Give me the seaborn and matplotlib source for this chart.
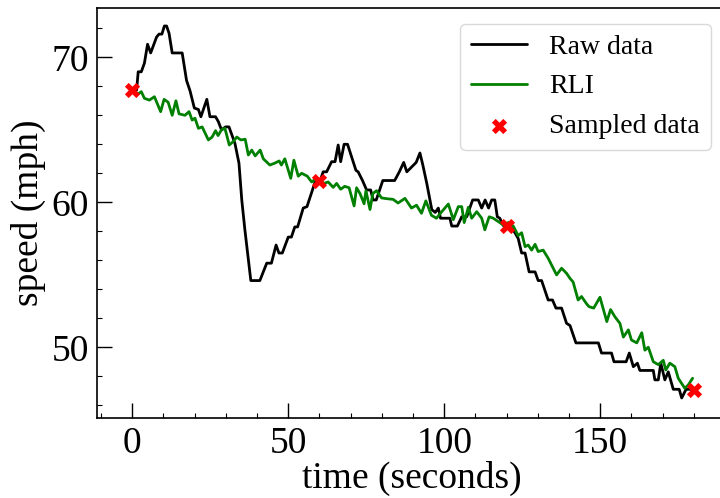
import matplotlib
matplotlib.use("Agg")
import matplotlib.pyplot as plt
from matplotlib.ticker import MultipleLocator
import seaborn as sns
import pandas as pd

# Raw data (vertices)
raw_t = [0, 1.4, 1.9, 2.9, 3.9, 4.9, 5.9, 7.8, 8.6, 9.5, 10.3, 11, 11.8, 12.8, 16, 17.4, 18.5,
         19.9, 21.2, 22, 23.9, 24.9, 26.7, 27.6, 28.6, 29.9, 31, 32.9, 34.2, 35.1, 36.1, 38,
         40.9, 43.1, 44.6, 46.1, 47, 48.1, 50, 51, 52.1, 53, 54.8, 56, 58.6, 60.2, 61.2, 62.3,
         63.9, 65, 66, 66.8, 67.9, 69, 71.7, 72.4, 73.8, 75.1, 76.4, 77.2, 78.2, 80.3, 84.1,
         85.6, 87, 88, 91, 92.2, 93.1, 94.4, 96, 97.1, 98.1, 98.8, 101.8, 102.4, 104.2, 105.6,
         107.2, 109.1, 110.9, 112, 113.1, 114.2, 115.2, 116.2, 117, 117.8, 118.9, 120.5, 122.1,
         123.7, 124.8, 125.9, 127.2, 129.1, 130.1, 131.2, 133.3, 134.7, 135.8, 137.6, 139.2,
         140.3, 142.2, 149.4, 150.4, 153.6, 154.4, 158.3, 159.3, 160.6, 161.9, 162.7, 167,
         167.5, 168.6, 169.4, 170.7, 171.8, 173.4, 175.3, 176.1, 177.5, 179.8]
raw_v = [67.74, 67.74, 69.0, 69.0, 69.6, 70.9, 70.3, 71.4, 71.6, 71.6, 72.16, 72.16, 71.65, 70.3,
         70.3, 68.4, 67.7, 66.5, 66.4, 65.9, 67.1, 65.9, 65.9, 65.56, 65.0, 65.2, 65.2, 64.07,
         62.7, 60.16, 58.1, 54.6, 54.6, 55.8, 55.8, 57.05, 56.5, 56.5, 57.6, 57.6, 58.3, 58.3,
         59.6, 59.7, 61.4, 61.5, 62.1, 62.1, 62.8, 62.8, 63.95, 62.8, 64.0, 64.0, 62.2, 62.1,
         61.5, 60.85, 60.85, 60.16, 60.16, 61.5, 61.5, 62.1, 62.75, 62.1, 62.75, 63.4, 62.6,
         61.3, 59.5, 59.3, 59.6, 58.9, 58.9, 58.36, 58.36, 59.0, 59.0, 60.16, 60.16, 59.6,
         60.16, 59.6, 60.16, 60.16, 59.0, 58.9, 58.4, 58.4, 58.1, 57.5, 56.5, 56.5, 55.2, 55.2,
         54.6, 54.6, 53.26, 53.26, 52.7, 52.7, 51.65, 51.5, 50.3, 50.3, 49.6, 49.6, 49.0, 49.0,
         49.6, 48.66, 48.9, 48.4, 48.4, 47.75, 47.75, 48.9, 47.75, 48.3, 47.1, 47.1, 46.5,
         47.1, 47.1]

# RLI (vertices)
rli_t = [0, 1.4, 2.9, 3.9, 5.5, 7.1, 9.1, 10.2, 11.5, 12.8, 14, 15, 16.9, 18.2, 19.2, 20.1, 21.2,
         22.4, 24.4, 25.6, 26.7, 27.5, 28.6, 29.7, 31.1, 32.4, 33.5, 34.8, 36.2, 37.2, 38.3,
         39.4, 41, 42, 44.1, 45.7, 47.1, 47.8, 48.9, 50.8, 51.8, 53.2, 54.3, 56.1, 57.5, 58.8,
         60.1, 61.4, 62.8, 64.4, 65.5, 66.8, 68.1, 69.5, 71.1, 71.9, 73, 74.3, 74.9, 76.2,
         77.1, 78.3, 79.9, 81.5, 83.6, 85.2, 87.4, 89.5, 91.1, 92.7, 94.1, 95.9, 97.5, 99.2,
         101.3, 102.9, 104.5, 105.6, 106.4, 107.7, 108.8, 110.4, 112, 113, 114.4, 115.7, 117.3,
         118.9, 120.5, 122.1, 123.7, 124.8, 125.9, 126.9, 128, 129.1, 130.1, 131.7, 133.3,
         134.9, 136, 137.6, 139.2, 140.3, 141.3, 142.9, 144, 145.6, 146.4, 147.9, 149.9, 152.1,
         153.3, 154.7, 156.3, 157.4, 159, 160, 161.7, 163.3, 164.3, 165.4, 167, 168.6, 170.2,
         171, 172.3, 173.9, 175, 176.1, 177.1, 178.2, 179.6]
rli_v = [67.74, 67.4, 67.63, 67.17, 67.05, 67.28, 66.25, 67.1, 66.9, 66.0, 67.0, 66.1, 66.0,
         66.25, 65.67, 65.8, 65.1, 65.2, 64.3, 64.5, 64.94, 64.6, 65.0, 65.1, 63.95, 64.2,
         64.5, 64.3, 64.35, 63.26, 63.6, 63.2, 63.6, 63.0, 62.57, 62.7, 62.85, 62.57, 63.0,
         61.65, 62.9, 61.8, 62.0, 61.8, 61.4, 61.6, 61.55, 61.3, 61.4, 61.03, 61.3, 60.9, 61.1,
         61.0, 59.75, 61.0, 60.6, 59.9, 60.8, 59.5, 60.6, 60.8, 60.3, 60.25, 60.2, 59.95,
         60.27, 59.6, 59.8, 59.24, 60.1, 59.1, 58.9, 59.35, 59.88, 58.8, 59.7, 59.7, 58.6,
         59.65, 58.9, 59.35, 58.9, 58.1, 59.0, 58.9, 58.67, 58.44, 58.6, 58.36, 57.7, 57.9,
         56.94, 57.05, 56.7, 57.1, 56.6, 56.7, 56.14, 55.45, 54.99, 55.45, 55.1, 54.75, 54.5,
         53.26, 53.5, 53.0, 52.8, 52.7, 53.45, 51.77, 52.6, 52.1, 51.65, 50.7, 51.2, 50.5,
         50.3, 51.0, 49.8, 50.0, 49.0, 48.8, 49.1, 48.43, 48.9, 48.66, 47.86, 47.5, 47.17,
         47.4, 47.86]

# Sampled data
samp_t = [0, 60, 120, 180]
samp_v = [67.74, 61.5, 58.36, 47.05]

sns.set_theme(style="ticks")
plt.rcParams["font.family"] = ["Liberation Serif", "DejaVu Serif"]
plt.rcParams["text.color"] = "black"
plt.rcParams["axes.labelcolor"] = "black"
plt.rcParams["xtick.color"] = "black"
plt.rcParams["ytick.color"] = "black"

fig = plt.figure(figsize=(7.2, 4.98), dpi=100)
ax = fig.add_axes([97 / 720, 1 - 418 / 498, 629 / 720, (418 - 8.3) / 498])

raw_df = pd.DataFrame({"t": raw_t, "v": raw_v})
rli_df = pd.DataFrame({"t": rli_t, "v": rli_v})
samp_df = pd.DataFrame({"t": samp_t, "v": samp_v})

sns.lineplot(data=raw_df, x="t", y="v", sort=False, estimator=None, color="black",
             linewidth=2, label="Raw data", ax=ax)
sns.lineplot(data=rli_df, x="t", y="v", sort=False, estimator=None, color="green",
             linewidth=2, label="RLI", ax=ax)
sns.scatterplot(data=samp_df, x="t", y="v", marker="X", color="red", s=120,
                linewidth=0, label="Sampled data", ax=ax, zorder=3)

ax.set_xlim(-11.3, 190.3)
ax.set_ylim(45.12, 73.38)
ax.set_xticks([0, 50, 100, 150])
ax.set_yticks([50, 60, 70])
ax.xaxis.set_minor_locator(MultipleLocator(10))
ax.yaxis.set_minor_locator(MultipleLocator(2))
ax.tick_params(which="major", direction="in", length=10.5, width=1, labelsize=27,
               colors="black", labelcolor="black", pad=6)
ax.tick_params(which="minor", direction="in", length=3.6, width=0.8, colors="black")
for s in ax.spines.values():
    s.set_linewidth(1.2)
    s.set_color("black")

ax.set_xlabel("time (seconds)", fontsize=27, labelpad=0, color="black")
ax.set_ylabel("speed (mph)", fontsize=27, labelpad=4, color="black")

leg = ax.legend(loc="upper right", fontsize=20, frameon=True, borderaxespad=0.55)
leg.get_frame().set_edgecolor("#d0d0d0")
for txt in leg.get_texts():
    txt.set_color("black")

fig.savefig("out.png", dpi=100)
